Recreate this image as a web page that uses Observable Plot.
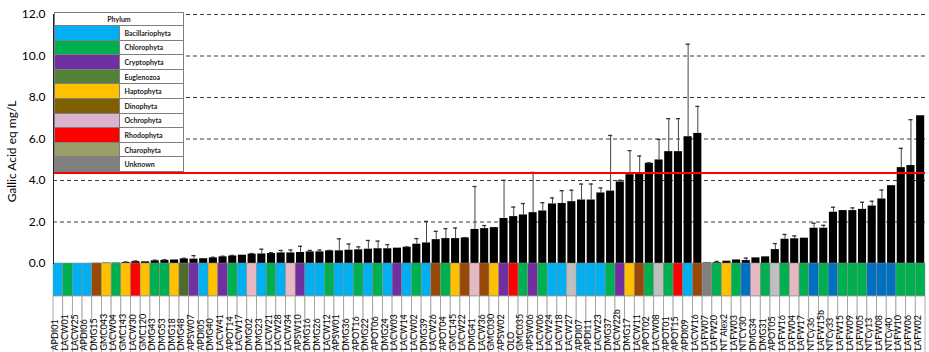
<!DOCTYPE html>
<html><head><meta charset="utf-8">
<script src="https://cdn.jsdelivr.net/npm/d3@7"></script>
<script src="https://cdn.jsdelivr.net/npm/@observablehq/plot@0.6"></script>
<style>
html,body{margin:0;padding:0;overflow:hidden;background:#fff;}
#wrap{position:relative;width:929px;height:352px;overflow:hidden;}
#legend{position:absolute;left:54px;top:12px;width:130px;border-collapse:collapse;background:#fff;font-family:Lato,"Noto Sans",sans-serif;font-size:7px;font-weight:bold;color:#222;table-layout:fixed;}
#legend td{border:1px solid #7f7f7f;padding:0;}
#legend tr.h td{height:12px;text-align:center;}
#legend tr.r td{height:13.6px;}
#legend td.sw{width:64px;}
#legend td.lb{padding-left:5px;}
</style></head><body><div id="wrap"></div>
<script>
// ---- data ----
const strains = ["APDI01","LACW01","LACW25","APDI06","DMG15","GMC043","LACW04","GMC143","LACW30","GMC120",
"DMG43","DMG53","DMG18","DMG48","APSW07","APDI05","DMG40","LACW41","APOT14","LACW17",
"DMG02","DMG23","LACW21","LACW28","LACW34","APSW10","DMG16","DMG26","LACW12","APSW01",
"DMG36","APOT16","DMG22","APOT06","DMG24","LACW03","LACW14","LACW02","DMG39","LACW26",
"APOT04","GMC145","LACW22","DMG41","LACW36","GMC030","APSW02","OLO","GMC035","APSW06",
"LACW06","LACW24","LACW18","LACW27","APDI07","APDI11","LACW23","DMG37","LACW22b","DMG17",
"LACW11","APOT02","LACW08","APOT01","APOT15","APDI09","LACW16","LAFW07","LAFW20","NT Alex2",
"LAFW03","NTCY30","DMG34","DMG31","APOT05","LAFW16","LAFW04","LAFW17","NTCy36","LAFW15b",
"NTCy33","LAFW15","LAFW09","LAFW05","NTCy13","LAFW08","NTCy40","LAFW10","LAFW06","LAFW02"];
const phylumCode = ["B","C","B","B","D","H","C","H","R","H",
"C","C","H","E","Cr","B","H","Cr","C","B",
"O","B","C","B","O","Cr","B","B","C","B",
"B","C","B","C","B","Cr","B","C","B","D",
"C","H","D","O","D","H","Cr","R","C","Cr",
"C","B","B","Ch","B","B","B","C","Cr","H",
"D","C","Ch","C","R","B","D","U","C","H",
"C","Cy","O","C","Ch","C","O","C","Cy","C",
"Cy","C","C","C","Cy","Cy","Cy","C","C","C"];
const gae = [0,0,0,0,0.01,0.02,0.02,0.05,0.09,0.08,
0.13,0.15,0.17,0.22,0.21,0.23,0.27,0.32,0.36,0.40,
0.45,0.46,0.48,0.51,0.51,0.53,0.56,0.56,0.61,0.61,
0.64,0.66,0.69,0.71,0.71,0.74,0.78,0.93,0.99,1.15,
1.20,1.20,1.23,1.64,1.68,1.73,2.17,2.26,2.34,2.45,
2.53,2.87,2.89,2.98,3.06,3.06,3.40,3.49,3.93,4.28,
4.35,4.83,4.99,5.39,5.39,6.11,6.27,0.03,0.04,0.11,
0.17,0.14,0.27,0.32,0.67,1.17,1.19,1.22,1.70,1.70,
2.47,2.55,2.55,2.61,2.77,3.11,3.75,4.62,4.72,7.12];
const gaeErr = [0,0,0,0,0,0,0,0.02,0.03,0,
0.03,0.03,0,0.03,0.17,0,0.03,0.03,0.03,0,
0.03,0.23,0.04,0.12,0.14,0.30,0.07,0.09,0.02,0.58,
0.30,0.14,0.42,0.37,0.20,0,0.02,0.27,1.04,0.40,
0.48,0.51,0.02,2.07,0.15,0,1.84,0.46,0.55,1.94,
0.40,0.29,0.62,0.55,0.77,0.77,0.24,2.68,0.08,1.16,
0.83,0.02,0.99,1.59,1.59,4.46,1.30,0,0.06,0,
0,0.12,0,0,0.29,0.23,0.14,0,0.24,0.14,
0.24,0,0.13,0.34,0.23,0.43,0,0.93,2.21,0];
const yTicks = [0,2,4,6,8,10,12];
const thresholdLine = 4.36;
const phylumCodes = ["B","C","Cr","E","H","D","O","R","Ch","U","Cy"];
const phylumNames = ["Bacillariophyta","Chlorophyta","Cryptophyta","Euglenozoa","Haptophyta","Dinophyta","Ochrophyta","Rhodophyta","Charophyta","Unknown","Cyanobacteria"];
const barColors = ["#00B0F0","#00B050","#7030A0","#4F6B2C","#FFC000","#984807","#E6B8C4","#FF0000","#BFBFBF","#808080","#0070C0"];
const legendPhyla = ["Bacillariophyta","Chlorophyta","Cryptophyta","Euglenozoa","Haptophyta","Dinophyta","Ochrophyta","Rhodophyta","Charophyta","Unknown"];
const legendColors = ["#00B0F0","#00B050","#7030A0","#538135","#FFC000","#7F6000","#DCB4D0","#FF0000","#9C9E6A","#808080"];
const yLabel = "Gallic Acid eq mg/L";

// ---- build ----
const codeToName = Object.fromEntries(phylumCodes.map((c,i)=>[c, phylumNames[i]]));
const data = strains.map((s,i)=>({id:s, phylum: codeToName[phylumCode[i]], value: gae[i], err: gaeErr[i]}));
const errData = data.filter(d=>d.err>0);
const font = "Lato, 'Noto Sans', sans-serif";

const chart = Plot.plot({
  width: 929, height: 352,
  marginLeft: 53, marginRight: 4, marginTop: 14, marginBottom: 89,
  style: {fontFamily: font, fontSize: "12px", background: "white", color: "black"},
  x: {type: "band", domain: strains, padding: 0, axis: null},
  y: {domain: [0,12], axis: null},
  color: {type: "ordinal", domain: phylumNames, range: barColors},
  marks: [
    Plot.ruleY(yTicks.filter(d=>d>0), {stroke: "#3a3a3a", strokeWidth: 1.1, strokeDasharray: "4,3"}),
    Plot.barY(data, {x: "id", y: "value", fill: "black", insetLeft: 0.8, insetRight: 0.8}),
    Plot.ruleX(errData, {x: "id", y1: "value", y2: d=>d.value+d.err, stroke: "#444", strokeWidth: 1}),
    Plot.tickY(errData, {x: "id", y: d=>d.value+d.err, insetLeft: 2.8, insetRight: 2.8, stroke: "#333", strokeWidth: 1.3}),
    Plot.ruleY([thresholdLine], {stroke: "#ff0000", strokeWidth: 2}),
    Plot.barY(data, {x: "id", y1: 0, y2: -1.59, fill: "phylum", stroke: "#8a8a8a", strokeWidth: 0.5}),
    Plot.barY(data, {x: "id", y1: -1.59, y2: -4.8, fill: "white", stroke: "#9a9a9a", strokeWidth: 0.8}),
    Plot.text(data, {x: "id", text: "id", frameAnchor: "bottom", dy: 87, rotate: -90, textAnchor: "start", fontSize: 9, fill: "black"}),
    Plot.axisY({ticks: yTicks, tickFormat: d3.format(".1f"), tickSize: 0, tickPadding: 8, fontSize: 12, label: null}),
    Plot.frame({anchor: "left", stroke: "#222"}),
    Plot.text([yLabel], {text: d=>d, frameAnchor: "left", y: 5.4, dx: -41, rotate: -90, textAnchor: "middle", fontSize: 12})
  ]
});
const wrap = document.getElementById("wrap");
wrap.appendChild(chart);

// legend
const tbl = document.createElement("table");
tbl.id = "legend";
let html = '<tr class="h"><td colspan="2">Phylum</td></tr>';
legendPhyla.forEach((p,i)=>{
  html += `<tr class="r"><td class="sw" style="background:${legendColors[i]}"></td><td class="lb">${p}</td></tr>`;
});
tbl.innerHTML = html;
wrap.appendChild(tbl);
</script></body></html>
